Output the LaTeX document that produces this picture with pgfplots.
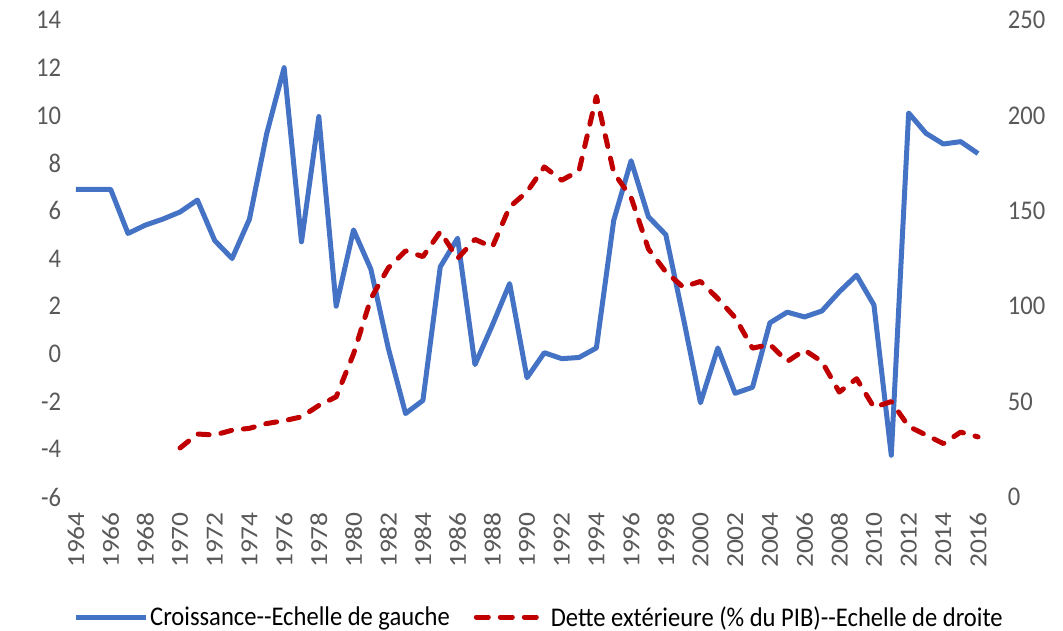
\documentclass[border=0pt]{standalone}
\usepackage{fontspec}
\setmainfont{Carlito}[FakeStretch=0.91]
\newfontfamily\yearfont{Carlito}[FakeStretch=1.12]
\usepackage{pgfplots}
\pgfplotsset{compat=1.18}
\usepackage{pgfplotstable}
\definecolor{croiss}{HTML}{4472C4}
\definecolor{dette}{HTML}{C00000}
\definecolor{txt}{HTML}{595959}

\pgfplotstableread{
annee val
1964 6.9
1965 6.9
1966 6.9
1967 5.05
1968 5.4
1969 5.65
1970 5.95
1971 6.45
1972 4.75
1973 4.0
1974 5.65
1975 9.25
1976 12.0
1977 4.7
1978 9.95
1979 2.0
1980 5.2
1981 3.55
1982 0.25
1983 -2.5
1984 -1.95
1985 3.65
1986 4.85
1987 -0.45
1988 1.2
1989 2.95
1990 -1.0
1991 0.05
1992 -0.2
1993 -0.15
1994 0.25
1995 5.6
1996 8.1
1997 5.75
1998 5.0
1999 1.55
2000 -2.05
2001 0.25
2002 -1.65
2003 -1.4
2004 1.3
2005 1.75
2006 1.55
2007 1.8
2008 2.6
2009 3.3
2010 2.05
2011 -4.25
2012 10.1
2013 9.25
2014 8.8
2015 8.9
2016 8.4
}\croissance

\pgfplotstableread{
annee val
1970 25.7
1971 33
1972 32.5
1973 35
1974 36
1975 38.5
1976 40
1977 42
1978 48
1979 52.5
1980 75
1981 104
1982 120
1983 129
1984 126
1985 139
1986 125
1987 135
1988 131
1989 152
1990 160
1991 173
1992 166
1993 171
1994 210
1995 170
1996 157
1997 130
1998 118
1999 110
2000 113
2001 104
2002 94
2003 78
2004 80
2005 71
2006 77
2007 71
2008 55
2009 62
2010 47
2011 50
2012 37
2013 32.5
2014 28
2015 34
2016 31.5
}\dette

\begin{document}
\begin{tikzpicture}
\path[use as bounding box] (0,0) rectangle (1063bp,631bp);
\pgfplotsset{
  base/.style={
    scale only axis,
    width=919.4bp, height=477bp,
    at={(67.3bp,134bp)}, anchor=south west,
    xmin=1963.5, xmax=2016.5,
    axis line style={draw=none},
    major tick length=0pt,
    font=\fontsize{27bp}{30bp}\selectfont,
    tick label style={text=txt, font=\fontsize{27bp}{30bp}\selectfont},
    /pgf/number format/assume math mode=true,
  },
}
\begin{axis}[
  base,
  ymin=-6, ymax=14,
  ytick={-6,-4,...,14},
  yticklabel style={anchor=east, inner sep=0pt, xshift=-6bp},
  xtick={1964,1966,...,2016},
  xticklabel={\pgfmathprintnumber[fixed,precision=0,set thousands separator={}]{\tick}},
  xticklabel style={yshift=-15bp, rotate=90, anchor=east, inner sep=0pt,
    font=\yearfont\fontsize{24.5bp}{27bp}\selectfont},
  legend columns=2,
  legend style={draw=none, fill=none, text=black,
    font=\fontsize{27bp}{30bp}\selectfont,
    at={(axis description cs:0.513,-0.2516)}, anchor=center,
    /tikz/every even column/.append style={column sep=22bp},
    inner sep=0pt},
  legend image code/.code={
    \draw[#1] (0bp,0bp) -- (70bp,0bp);
  },
]
\addplot[color=croiss, line width=5bp, line join=round] table[x=annee, y=val] {\croissance};
\addlegendentry{Croissance-{}-Echelle de gauche}
\addlegendimage{color=dette, line width=5bp, line cap=round, dash pattern=on 12bp off 12bp}
\addlegendentry{Dette extérieure (\% du PIB)-{}-Echelle de droite}
\end{axis}
\begin{axis}[
  base,
  ymin=0, ymax=250,
  ytick={0,50,...,250},
  axis y line*=right,
  hide x axis,
  yticklabel style={anchor=west, inner sep=0pt, xshift=21bp},
]
\addplot[color=dette, line width=5bp, line cap=round, line join=round, dash pattern=on 11bp off 12bp] table[x=annee, y=val] {\dette};
\end{axis}
\end{tikzpicture}
\end{document}
